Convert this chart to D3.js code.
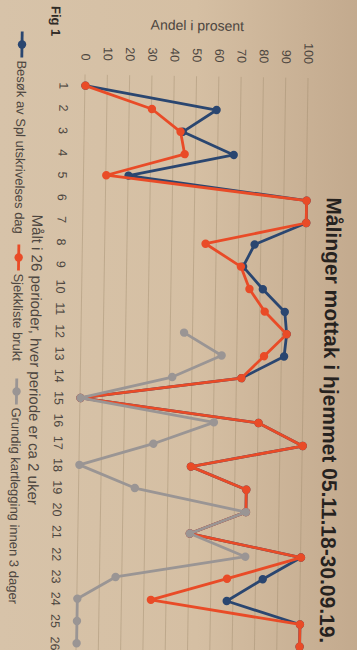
<!DOCTYPE html>
<html>
<head>
<meta charset="utf-8">
<script src="https://cdn.jsdelivr.net/npm/d3@7"></script>
<style>
  html, body { margin: 0; padding: 0; background: #d4bea2; }
  svg { display: block; }
</style>
</head>
<body>
<svg id="chart" width="357" height="650"></svg>
<script>
// Periods measured (each about two weeks)
const periods = d3.range(1, 27).map(String);

// Share in percent per period
const besok = [0, 59, 44, 67, 20, 100, 100, 77, 72, 81, 91, 92, 91, 72, 0, 80, 100, 50, 75, 75, 50, 100, 83, 67, 100, 100];
const sjekkliste = [0, 30, 43, 45, 10, 100, 100, 55, 71, 75, 82, 92, 82, 72, 0, 80, 100, 50, 75, 75, 50, 100, 67, 33, 100, 100];
const grundig = [null, null, null, null, null, null, null, null, null, null, null, 46, 63, 41, 0, 60, 33, 0, 25, 75, 50, 75, 17, 0, 0, 0];

const valueTicks = [0, 10, 20, 30, 40, 50, 60, 70, 80, 90, 100];
const seriesNames = ["Besøk av Spl utskrivelses dag", "Sjekkliste brukt", "Grundig kartlegging innen 3 dager"];
const seriesColors = ["#2a4670", "#e94b27", "#9a9594"];

const titleText = "Målinger mottak i hjemmet 05.11.18-30.09.19.";
const valueTitle = "Andel i prosent";
const periodTitle = "Målt i 26 perioder, hver periode er ca 2 uker";
const figLabel = "Fig 1";

const FONT = "'Liberation Sans', Arial, sans-serif";
const svg = d3.select("#chart");

// paper background
const defs = svg.append("defs");
const paper = defs.append("linearGradient").attr("id", "paper")
  .attr("x1", 0).attr("x2", 1).attr("y1", 0).attr("y2", 0);
paper.append("stop").attr("offset", 0).attr("stop-color", "#d7c3a9");
paper.append("stop").attr("offset", 0.55).attr("stop-color", "#d5bfa3");
paper.append("stop").attr("offset", 1).attr("stop-color", "#c3aa8e");
svg.append("rect").attr("width", 357).attr("height", 650).attr("fill", "url(#paper)");

// the sheet sits slightly askew; the chart is laid out sideways on it
const sheet = svg.append("g").attr("transform", "rotate(0.9,178,365)");
const g = sheet.append("g").attr("transform", "translate(357,0) rotate(90)");

const x = d3.scalePoint().domain(periods).range([76, 656]).padding(0.5);
const y = d3.scaleLinear().domain([0, 100]).range([276, 53]);

// horizontal gridlines
g.append("g")
  .attr("transform", "translate(76,0)")
  .call(d3.axisLeft(y).tickValues(valueTicks).tickSize(-580).tickFormat(""))
  .call(s => s.select(".domain").remove())
  .selectAll("line")
  .attr("stroke", "#a08a6e").attr("stroke-opacity", 0.55).attr("stroke-width", 0.8);

// value axis labels
const yAxis = g.append("g")
  .attr("transform", "translate(66,0)")
  .call(d3.axisLeft(y).tickValues(valueTicks).tickSize(0).tickPadding(4));
yAxis.select(".domain").remove();
yAxis.selectAll("text").attr("font-family", FONT).attr("font-size", 12.5).attr("fill", "#4d4640");

// period axis labels
const xAxis = g.append("g")
  .attr("transform", `translate(0,${y(0)})`)
  .call(d3.axisBottom(x).tickSize(0).tickPadding(17));
xAxis.select(".domain").remove();
xAxis.selectAll("text").attr("font-family", FONT).attr("font-size", 12.5).attr("fill", "#4d4640");

// series lines and markers
const line = d3.line()
  .defined(d => d.v != null)
  .x(d => x(d.p))
  .y(d => y(d.v));

[besok, sjekkliste, grundig].forEach((vals, i) => {
  const pts = periods.map((p, j) => ({ p, v: vals[j] }));
  const sg = g.append("g");
  sg.append("path").datum(pts)
    .attr("d", line)
    .attr("fill", "none")
    .attr("stroke", seriesColors[i])
    .attr("stroke-width", 2.8)
    .attr("stroke-linejoin", "round");
  sg.selectAll("circle")
    .data(pts.filter(d => d.v != null))
    .join("circle")
    .attr("cx", d => x(d.p))
    .attr("cy", d => y(d.v))
    .attr("r", 4.2)
    .attr("fill", seriesColors[i]);
});

// title
g.append("text")
  .attr("x", 418).attr("y", 33)
  .attr("text-anchor", "middle")
  .attr("font-family", FONT).attr("font-weight", "bold").attr("font-size", 21)
  .attr("fill", "#26221f")
  .text(titleText);

// value axis title
g.append("text")
  .attr("transform", "translate(30,165) rotate(-90)")
  .attr("text-anchor", "middle")
  .attr("font-family", FONT).attr("font-size", 14)
  .attr("fill", "#4d4640")
  .text(valueTitle);

// period axis title
g.append("text")
  .attr("x", 362).attr("y", 327)
  .attr("text-anchor", "middle")
  .attr("font-family", FONT).attr("font-size", 15)
  .attr("fill", "#4d4640")
  .text(periodTitle);

// figure label
g.append("text")
  .attr("x", 8).attr("y", 311)
  .attr("font-family", FONT).attr("font-weight", "bold").attr("font-size", 13)
  .attr("fill", "#2f2a26")
  .text(figLabel);

// legend
const legendStarts = [34, 247, 381];
const legend = g.append("g").attr("transform", "translate(0,340)");
seriesNames.forEach((name, i) => {
  const it = legend.append("g").attr("transform", `translate(${legendStarts[i]},0)`);
  it.append("line").attr("x1", 0).attr("x2", 26).attr("y1", 0).attr("y2", 0)
    .attr("stroke", seriesColors[i]).attr("stroke-width", 2.8);
  it.append("circle").attr("cx", 13).attr("cy", 0).attr("r", 4.2).attr("fill", seriesColors[i]);
  it.append("text").attr("x", 29).attr("y", 4.5)
    .attr("font-family", FONT).attr("font-size", 13)
    .attr("fill", "#4d4640")
    .text(name);
});
</script>
</body>
</html>
